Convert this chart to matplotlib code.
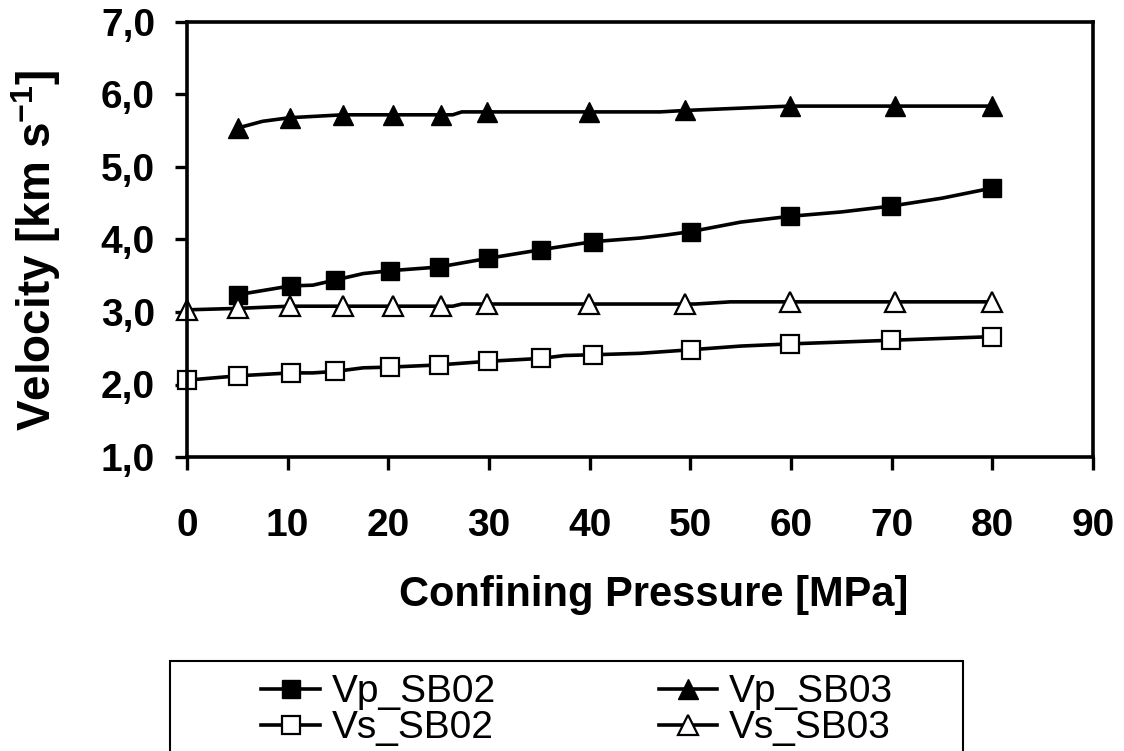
import matplotlib
matplotlib.use('Agg')
import matplotlib.pyplot as plt
from matplotlib.patches import Rectangle

# Confining pressure [MPa] and velocities [km/s]
p_vp02 = [5.1, 10.3, 12.5, 14.7, 17.5, 20.2, 25.0, 29.9, 35.2, 40.3, 45.0, 47.5, 50.1, 55.0, 59.9, 65.0, 69.9, 75.0, 80.0]
vp02 = [3.24, 3.36, 3.37, 3.44, 3.53, 3.57, 3.62, 3.74, 3.86, 3.97, 4.02, 4.06, 4.11, 4.24, 4.32, 4.38, 4.46, 4.57, 4.71]
mk_vp02 = [0, 1, 3, 5, 6, 7, 8, 9, 12, 14, 16, 18]

p_vp03 = [5.1, 7.5, 10.2, 15.5, 20.5, 25.2, 26.4, 27.3, 29.8, 39.9, 47.0, 49.5, 59.9, 70.3, 80.0]
vp03 = [5.54, 5.63, 5.68, 5.72, 5.72, 5.72, 5.72, 5.76, 5.76, 5.76, 5.76, 5.78, 5.84, 5.84, 5.84]
mk_vp03 = [0, 2, 3, 4, 5, 8, 9, 11, 12, 13, 14]

p_vs02 = [0.0, 5.1, 10.3, 12.5, 14.7, 17.5, 20.2, 25.0, 29.9, 35.2, 37.5, 40.3, 45.0, 50.1, 55.0, 59.9, 69.9, 80.0]
vs02 = [2.06, 2.12, 2.16, 2.16, 2.18, 2.23, 2.24, 2.27, 2.32, 2.36, 2.40, 2.41, 2.43, 2.48, 2.53, 2.56, 2.61, 2.66]
mk_vs02 = [0, 1, 2, 4, 6, 7, 8, 9, 11, 13, 15, 16, 17]

p_vs03 = [0.0, 5.1, 10.2, 15.5, 20.5, 25.2, 26.4, 27.3, 29.8, 39.9, 49.5, 50.5, 54.0, 59.9, 70.3, 80.0]
vs03 = [3.03, 3.05, 3.08, 3.08, 3.08, 3.08, 3.08, 3.11, 3.11, 3.11, 3.11, 3.11, 3.14, 3.14, 3.14, 3.14]
mk_vs03 = [0, 1, 2, 3, 4, 5, 8, 9, 10, 13, 14, 15]

x_ticks = [0, 10, 20, 30, 40, 50, 60, 70, 80, 90]
y_ticks = [1.0, 2.0, 3.0, 4.0, 5.0, 6.0, 7.0]
y_labels = ['1,0', '2,0', '3,0', '4,0', '5,0', '6,0', '7,0']

plt.rcParams['font.family'] = ['Liberation Sans', 'DejaVu Sans']
plt.rcParams['mathtext.fontset'] = 'custom'
plt.rcParams['mathtext.rm'] = 'Liberation Sans:bold'
plt.rcParams['mathtext.it'] = 'Liberation Sans:bold'
plt.rcParams['mathtext.bf'] = 'Liberation Sans:bold'

fig = plt.figure(figsize=(11.24, 7.51), dpi=100)
ax = fig.add_axes([187 / 1124, 1 - 457 / 751, (1093 - 187) / 1124, (457 - 22) / 751])

lw = 2.6
ms = 13
ax.plot(p_vp02, vp02, color='black', lw=lw, marker='s', ms=ms, mfc='black', mec='black',
        markevery=mk_vp02, label='Vp_SB02', clip_on=False)
ax.plot(p_vs02, vs02, color='black', lw=lw, marker='s', ms=ms, mfc='white', mec='black', mew=1.6,
        markevery=mk_vs02, label='Vs_SB02', clip_on=False)
ax.plot(p_vp03, vp03, color='black', lw=lw, marker='^', ms=ms + 1, mfc='black', mec='black',
        markevery=mk_vp03, label='Vp_SB03', clip_on=False)
ax.plot(p_vs03, vs03, color='black', lw=lw, marker='^', ms=ms + 1, mfc='white', mec='black', mew=1.6,
        markevery=mk_vs03, label='Vs_SB03', clip_on=False)

ax.set_xlim(0, 90)
ax.set_ylim(1, 7)
ax.set_xticks(x_ticks)
ax.set_yticks(y_ticks)
ax.set_yticklabels(y_labels)
for s in ax.spines.values():
    s.set_linewidth(2.6)
ax.tick_params(axis='both', direction='out', length=9, width=2.4, labelsize=28)
ax.tick_params(axis='x', pad=28)
ax.tick_params(axis='y', pad=14)
for t in ax.get_xticklabels() + ax.get_yticklabels():
    t.set_fontweight('bold')

ax.set_xlabel('Confining Pressure [MPa]', fontsize=30, fontweight='bold')
ax.xaxis.set_label_coords(0.515, -0.272)
ax.set_ylabel(r'Velocity [km s$^{-1}$]', fontsize=33, fontweight='bold')
ax.yaxis.set_label_coords(-0.137, 0.475)

leg = fig.legend(loc='upper left', bbox_to_anchor=(242 / 1124, 1 - 655 / 751), ncol=2,
                 frameon=False, fontsize=28, borderpad=0, handlelength=1.5,
                 handletextpad=0.3, columnspacing=4.2, labelspacing=0.0, handleheight=0.6)

fig.add_artist(Rectangle((170 / 1124, -0.1), (963 - 170) / 1124, 0.1 + (751 - 661) / 751,
                         transform=fig.transFigure, fill=False, lw=1.5, ec='black'))

fig.savefig('out.png', dpi=100)
